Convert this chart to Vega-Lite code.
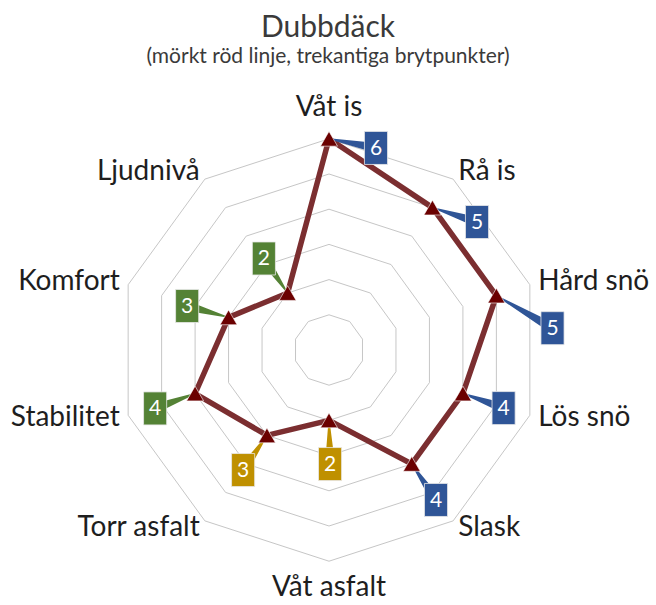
{
  "$schema": "https://vega.github.io/schema/vega-lite/v6.json",
  "width": 656,
  "height": 515,
  "autosize": "none",
  "padding": {"top": 90, "left": 0, "right": 0, "bottom": 0},
  "background": "white",
  "config": {"view": {"stroke": null}, "font": "Lato"},
  "title": {
    "text": "Dubbdäck",
    "subtitle": "(mörkt röd linje, trekantiga brytpunkter)",
    "anchor": "middle",
    "font": "Lato",
    "fontSize": 30,
    "fontWeight": "normal",
    "color": "#3a3a3a",
    "subtitleFont": "Lato",
    "subtitleFontSize": 21,
    "subtitleColor": "#3a3a3a",
    "subtitlePadding": 3,
    "offset": 23
  },
  "data": {
    "values": [
      {"axis": "Våt is", "i": 0, "value": 6, "grupp": "Vinter"},
      {"axis": "Rå is", "i": 1, "value": 5, "grupp": "Vinter"},
      {"axis": "Hård snö", "i": 2, "value": 5, "grupp": "Vinter"},
      {"axis": "Lös snö", "i": 3, "value": 4, "grupp": "Vinter"},
      {"axis": "Slask", "i": 4, "value": 4, "grupp": "Vinter"},
      {"axis": "Våt asfalt", "i": 5, "value": 2, "grupp": "Asfalt"},
      {"axis": "Torr asfalt", "i": 6, "value": 3, "grupp": "Asfalt"},
      {"axis": "Stabilitet", "i": 7, "value": 4, "grupp": "Komfort"},
      {"axis": "Komfort", "i": 8, "value": 3, "grupp": "Komfort"},
      {"axis": "Ljudnivå", "i": 9, "value": 2, "grupp": "Komfort"}
    ]
  },
  "transform": [
    {"calculate": "datum.i * PI / 5", "as": "ang"},
    {"calculate": "datum.value * sin(datum.ang)", "as": "x"},
    {"calculate": "datum.value * cos(datum.ang)", "as": "y"},
    {"calculate": "{'Våt is': 1.335, 'Rå is': 4.205, 'Hård snö': 6.35, 'Lös snö': 4.96, 'Slask': 3.04, 'Våt asfalt': 0.03, 'Torr asfalt': -2.44, 'Stabilitet': -4.94, 'Komfort': -4.03, 'Ljudnivå': -1.85}[datum.axis]", "as": "lx"},
    {"calculate": "{'Våt is': 5.74, 'Rå is': 3.636, 'Hård snö': 0.62, 'Lös snö': -1.65, 'Slask': -4.26, 'Våt asfalt': -3.24, 'Torr asfalt': -3.41, 'Stabilitet': -1.66, 'Komfort': 1.25, 'Ljudnivå': 2.6}[datum.axis]", "as": "ly"},
    {"calculate": "6.25 * sin(datum.ang)", "as": "tx"},
    {"calculate": "6.25 * cos(datum.ang)", "as": "ty"}
  ],
  "encoding": {
    "x": {"type": "quantitative", "scale": {"domain": [-9.347, 9.29], "nice": false, "zero": false}, "axis": null},
    "y": {"type": "quantitative", "scale": {"domain": [-7.244, 7.386], "nice": false, "zero": false}, "axis": null}
  },
  "layer": [
    {
      "transform": [
        {"calculate": "[1, 2, 3, 4, 5, 6]", "as": "level"},
        {"flatten": ["level"]},
        {"calculate": "datum.level * sin(datum.ang)", "as": "gx"},
        {"calculate": "datum.level * cos(datum.ang)", "as": "gy"}
      ],
      "mark": {"type": "line", "interpolate": "linear-closed", "color": "#c6c6c6", "strokeWidth": 1},
      "encoding": {
        "x": {"field": "gx", "type": "quantitative"},
        "y": {"field": "gy", "type": "quantitative"},
        "detail": {"field": "level", "type": "nominal"},
        "order": {"field": "i", "type": "quantitative"}
      }
    },
    {
      "mark": {"type": "line", "interpolate": "linear-closed", "color": "#7b2e30", "strokeWidth": 5.5},
      "encoding": {
        "x": {"field": "x", "type": "quantitative"},
        "y": {"field": "y", "type": "quantitative"},
        "order": {"field": "i", "type": "quantitative"}
      }
    },
    {
      "transform": [
        {"calculate": "[0, 1]", "as": "end"},
        {"flatten": ["end"]},
        {"calculate": "datum.end == 0 ? datum.x : datum.lx", "as": "px"},
        {"calculate": "datum.end == 0 ? datum.y : datum.ly", "as": "py"},
        {"calculate": "datum.end * 10", "as": "w"}
      ],
      "mark": {"type": "trail"},
      "encoding": {
        "x": {"field": "px", "type": "quantitative"},
        "y": {"field": "py", "type": "quantitative"},
        "detail": {"field": "axis", "type": "nominal"},
        "order": {"field": "end", "type": "quantitative"},
        "size": {"field": "w", "type": "quantitative", "scale": null},
        "color": {"field": "grupp", "type": "nominal", "scale": {"domain": ["Vinter", "Asfalt", "Komfort"], "range": ["#2f5597", "#bf9000", "#548235"]}, "legend": null}
      }
    },
    {
      "mark": {"type": "point", "shape": "triangle-up", "filled": true, "size": 290, "color": "#6b0000", "opacity": 1, "stroke": "#ffffff", "strokeWidth": 0.6},
      "encoding": {
        "x": {"field": "x", "type": "quantitative"},
        "y": {"field": "y", "type": "quantitative"}
      }
    },
    {
      "mark": {"type": "point", "shape": "M-0.7,-1H0.7V1H-0.7Z", "filled": true, "size": 1089, "opacity": 1, "stroke": "#e8e8e8", "strokeWidth": 0.8},
      "encoding": {
        "x": {"field": "lx", "type": "quantitative"},
        "y": {"field": "ly", "type": "quantitative"},
        "color": {"field": "grupp", "type": "nominal", "scale": {"domain": ["Vinter", "Asfalt", "Komfort"], "range": ["#2f5597", "#bf9000", "#548235"]}, "legend": null}
      }
    },
    {
      "mark": {"type": "text", "color": "white", "fontSize": 21, "font": "Lato", "align": "center", "baseline": "middle", "dy": 1},
      "encoding": {
        "x": {"field": "lx", "type": "quantitative"},
        "y": {"field": "ly", "type": "quantitative"},
        "text": {"field": "value", "type": "quantitative"}
      }
    },
    {
      "transform": [{"filter": "datum.i >= 1 && datum.i <= 4"}],
      "mark": {"type": "text", "color": "#1e1e1e", "fontSize": 28, "font": "Lato", "align": "left", "baseline": "middle"},
      "encoding": {
        "x": {"field": "tx", "type": "quantitative"},
        "y": {"field": "ty", "type": "quantitative"},
        "text": {"field": "axis", "type": "nominal"}
      }
    },
    {
      "transform": [{"filter": "datum.i >= 6"}],
      "mark": {"type": "text", "color": "#1e1e1e", "fontSize": 28, "font": "Lato", "align": "right", "baseline": "middle"},
      "encoding": {
        "x": {"field": "tx", "type": "quantitative"},
        "y": {"field": "ty", "type": "quantitative"},
        "text": {"field": "axis", "type": "nominal"}
      }
    },
    {
      "transform": [{"filter": "datum.i == 0"}],
      "mark": {"type": "text", "color": "#1e1e1e", "fontSize": 28, "font": "Lato", "align": "center", "baseline": "middle", "dy": -22},
      "encoding": {
        "x": {"field": "tx", "type": "quantitative"},
        "y": {"field": "ty", "type": "quantitative"},
        "text": {"field": "axis", "type": "nominal"}
      }
    },
    {
      "transform": [{"filter": "datum.i == 5"}],
      "mark": {"type": "text", "color": "#1e1e1e", "fontSize": 28, "font": "Lato", "align": "center", "baseline": "middle", "dy": 18},
      "encoding": {
        "x": {"field": "tx", "type": "quantitative"},
        "y": {"field": "ty", "type": "quantitative"},
        "text": {"field": "axis", "type": "nominal"}
      }
    }
  ]
}
